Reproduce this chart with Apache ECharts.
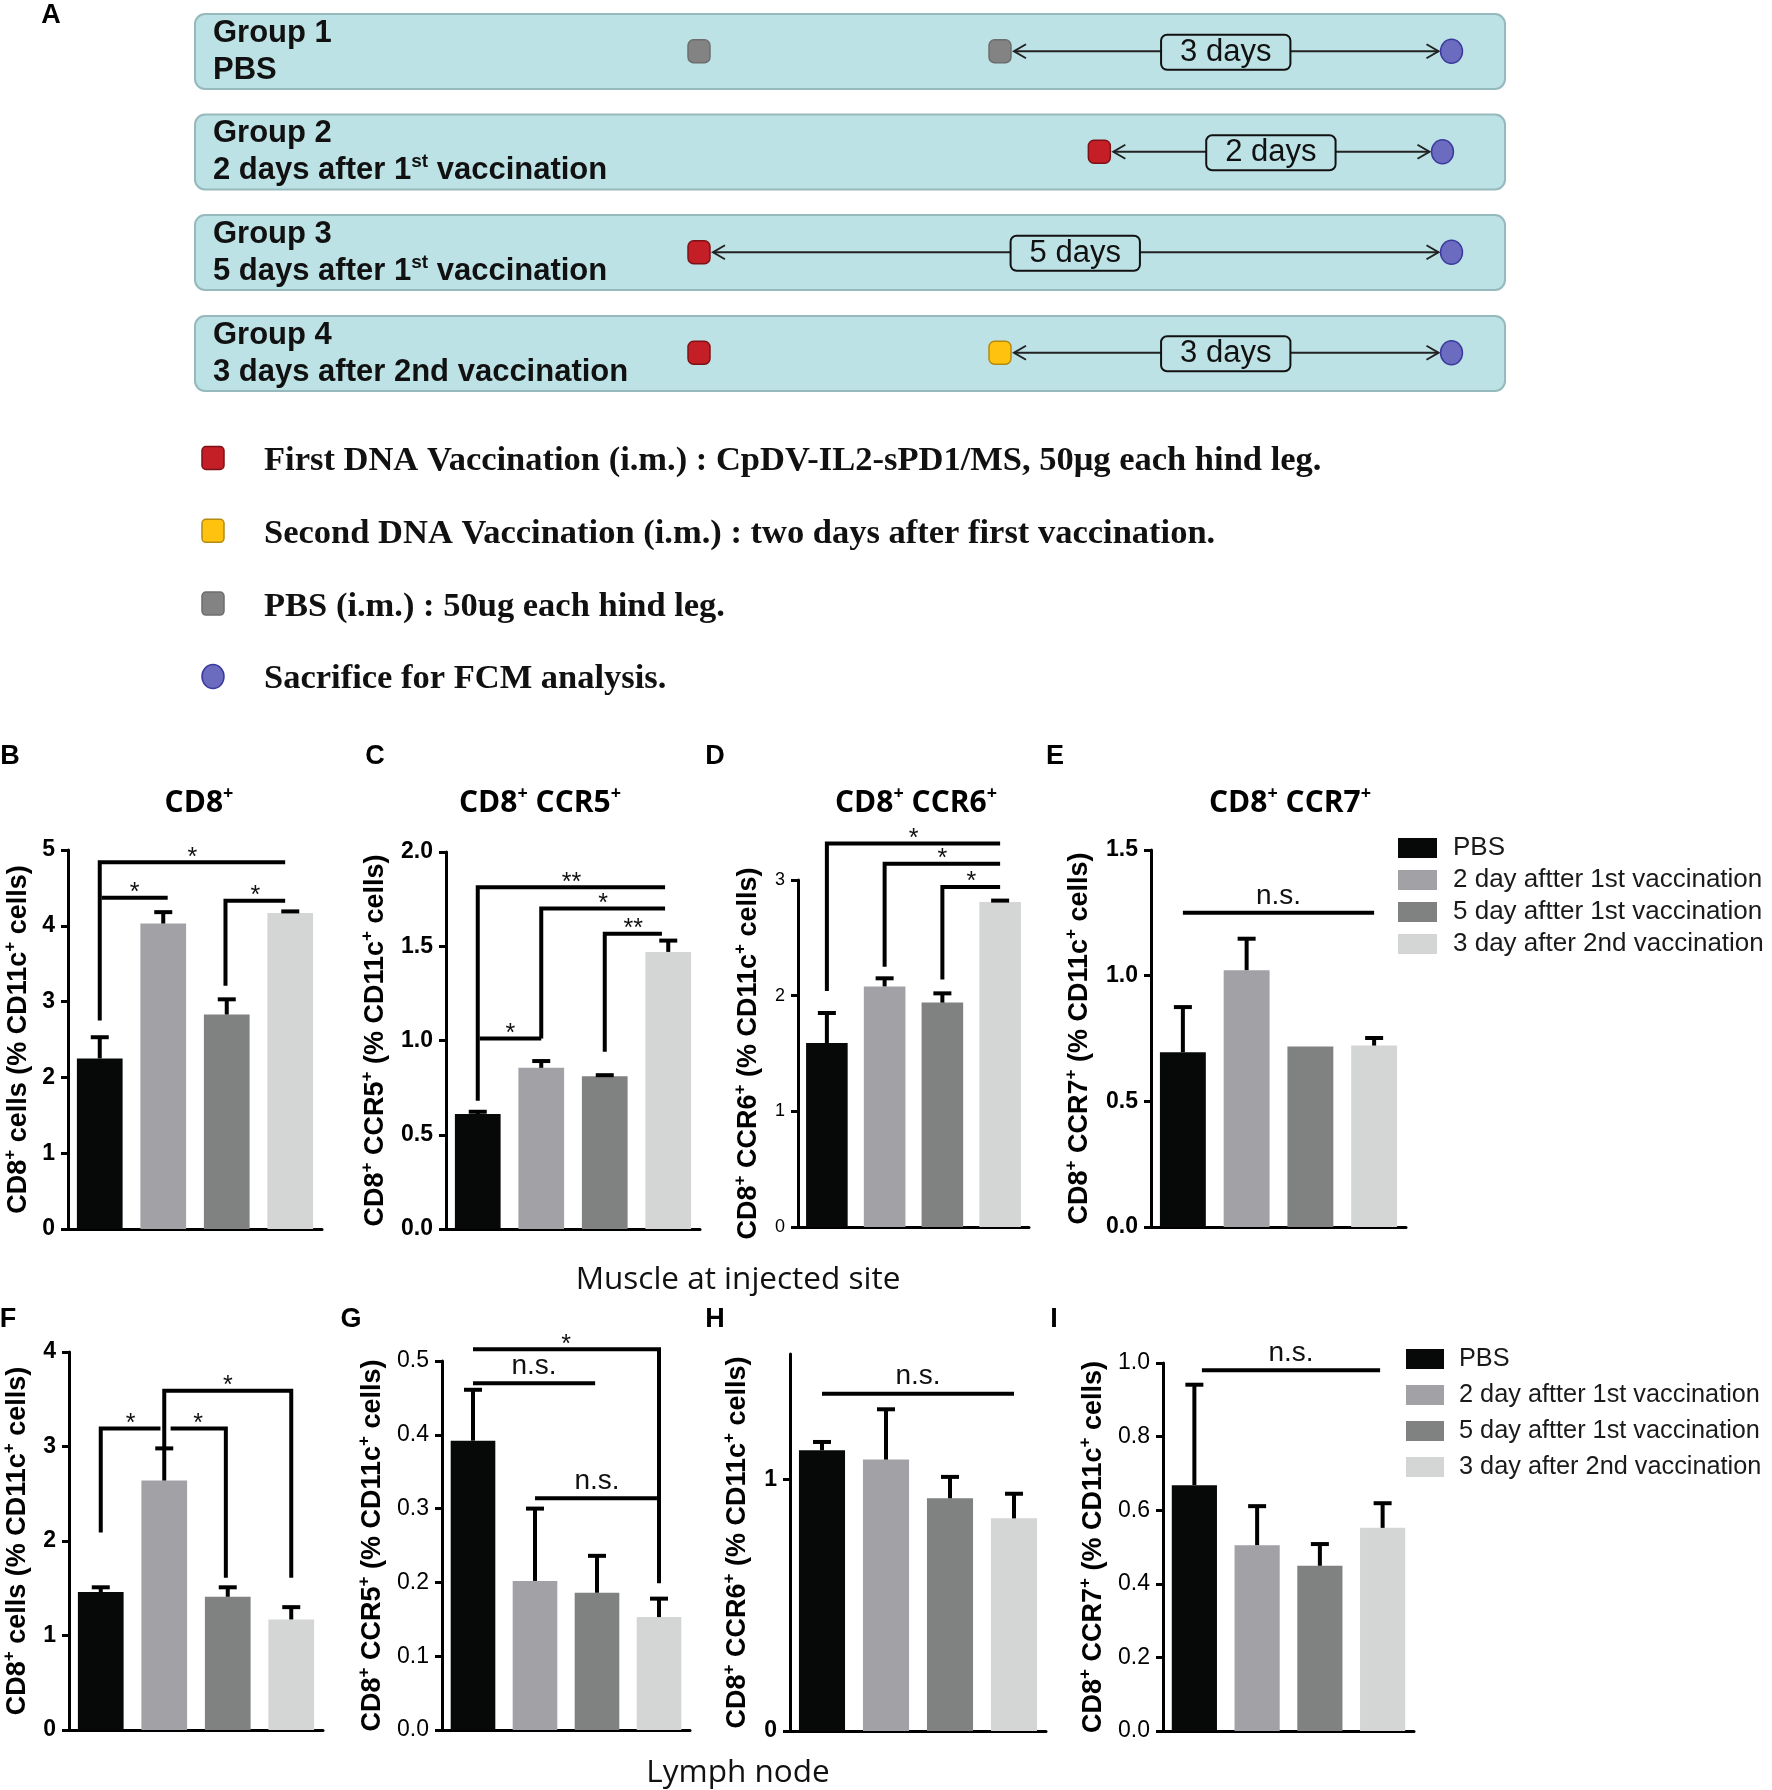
<!DOCTYPE html>
<html><head><meta charset="utf-8">
<script src="https://cdn.jsdelivr.net/npm/echarts@6/dist/echarts.min.js"></script>
<style>html,body{margin:0;padding:0;background:#fff}#c{width:1772px;height:1790px}</style>
</head><body><div id="c"></div>
<script>
// ---------------- data ----------------
const groups = ['PBS', '2 day aftter 1st vaccination', '5 day aftter 1st vaccination', '3 day after 2nd vaccination'];

const muscleCD8 = [2.25, 4.03, 2.83, 4.17];
const muscleCD8Err = [0.28, 0.15, 0.20, 0.02];
const muscleCCR5 = [0.61, 0.855, 0.81, 1.47];
const muscleCCR5Err = [0.012, 0.036, 0.006, 0.06];
const muscleCCR6 = [1.59, 2.08, 1.94, 2.81];
const muscleCCR6Err = [0.26, 0.07, 0.08, 0.012];
const muscleCCR7 = [0.695, 1.022, 0.718, 0.722];
const muscleCCR7Err = [0.18, 0.125, 0, 0.03];

const lymphCD8 = [1.46, 2.64, 1.41, 1.17];
const lymphCD8Err = [0.05, 0.34, 0.10, 0.13];
const lymphCCR5 = [0.392, 0.202, 0.186, 0.153];
const lymphCCR5Err = [0.069, 0.098, 0.05, 0.025];
const lymphCCR6 = [1.117, 1.08, 0.926, 0.846];
const lymphCCR6Err = [0.033, 0.2, 0.085, 0.098];
const lymphCCR7 = [0.668, 0.505, 0.449, 0.552];
const lymphCCR7Err = [0.273, 0.106, 0.059, 0.067];

// tick labels (value axes)
const muscleCD8Ticks = [0, 1, 2, 3, 4, 5];
const muscleCCR5Ticks = [0, 0.5, 1.0, 1.5, 2.0];
const muscleCCR6Ticks = [0, 1, 2, 3];
const muscleCCR7Ticks = [0, 0.5, 1.0, 1.5];
const lymphCD8Ticks = [0, 1, 2, 3, 4];
const lymphCCR5Ticks = [0, 0.1, 0.2, 0.3, 0.4, 0.5];
const lymphCCR6Ticks = [0, 1];
const lymphCCR6AxisMax = 1.5;
const lymphCCR7Ticks = [0, 0.2, 0.4, 0.6, 0.8, 1.0];

// significance brackets: [fromIndex, toIndex, level, label, leftEndLevel, rightEndLevel]
const muscleCD8Sig = [[0, 2.92, 4.84, '*', 2.75, null], [0.03, 1.07, 4.37, '*', null, null], [1.98, 2.92, 4.33, '*', 3.21, null]];
const muscleCCR5Sig = [[0, 2.95, 1.813, '**', 0.68, null], [1, 2.95, 1.70, '*', 1.01, null], [2, 2.9, 1.566, '**', 0.94, null], [0.03, 1, 1.01, '*', null, null]];
const muscleCCR6Sig = [[0, 3, 3.316, '*', 2.04, null], [1, 3, 3.14, '*', 2.25, null], [2, 3, 2.94, '*', 2.14, null]];
const muscleCCR7Sig = [[0, 3, 1.25, 'n.s.', null, null]];
const lymphCD8Sig = [[0, 0.94, 3.19, '*', 2.09, null], [1.1, 1.97, 3.19, '*', null, 1.61], [1, 3, 3.59, '*', 2.99, 1.61]];
const lymphCCR5Sig = [[0, 3, 0.516, '*', null, 0.199], [0, 1.97, 0.47, 'n.s.', null, null], [1, 3, 0.314, 'n.s.', null, null]];
const lymphCCR6Sig = [[0, 3, 1.342, 'n.s.', null, null]];
const lymphCCR7Sig = [[0.12, 2.96, 0.98, 'n.s.', null, null]];

// panel A timeline (days)
const timelineGroups = [['Group 1', 'PBS'], ['Group 2', '2 days after 1{s|st} vaccination'], ['Group 3', '5 days after 1{s|st} vaccination'], ['Group 4', '3 days after 2nd vaccination']];
const timelinePBS = [[0, 0], [2, 0]];
const timelineFirstVacc = [[2.66, 1], [0, 2], [0, 3]];
const timelineSecondVacc = [[2, 3]];
const timelineSacrifice = [[5, 0], [4.94, 1], [5, 2], [5, 3]];
// [start, end, row, label, labelPosition]
const timelineIntervals = [[2, 5, 0, '3 days', 3.5], [2.66, 4.94, 1, '2 days', 3.8], [0, 5, 2, '5 days', 2.5], [2, 5, 3, '3 days', 3.5]];
const vaccineLegend = ['First DNA Vaccination (i.m.) : CpDV-IL2-sPD1/MS, 50μg each hind leg.', 'Second DNA Vaccination (i.m.) : two days after first vaccination.', 'PBS (i.m.) : 50ug each hind leg.', 'Sacrifice for FCM analysis.'];

// ---------------- styles / layout ----------------
const barColors = ['#070909', '#a1a1a6', '#808181', '#d4d5d5'];
const SANS = 'Liberation Sans';
const nameRich = {
  m: { fontSize: 27, fontWeight: 'bold', fontFamily: SANS, color: '#000', lineHeight: 33 },
  s: { fontSize: 17, fontWeight: 'bold', fontFamily: SANS, color: '#000', lineHeight: 17, verticalAlign: 'top' }
};
const nm = (a, b) => '{m|CD8}{s|+}{m| ' + a + '}' + (b ? '{s|+}' : '') + '{m| (% CD11c}{s|+}{m| cells)}';

const panels = [
  { vals: muscleCD8, err: muscleCD8Err, sig: muscleCD8Sig, ticks: muscleCD8Ticks, max: 5, dec: 0, grid: { left: 68, top: 850, width: 254, height: 379 }, name: nm('cells', false), gap: 33, bold: true, ls: 23 },
  { vals: muscleCCR5, err: muscleCCR5Err, sig: muscleCCR5Sig, ticks: muscleCCR5Ticks, max: 2, dec: 1, grid: { left: 446, top: 852, width: 254, height: 377 }, name: nm('CCR5', true), gap: 54, bold: true, ls: 23 },
  { vals: muscleCCR6, err: muscleCCR6Err, sig: muscleCCR6Sig, ticks: muscleCCR6Ticks, max: 3, dec: 0, grid: { left: 798, top: 880, width: 231, height: 347 }, name: nm('CCR6', true), gap: 33, bold: false, ls: 18 },
  { vals: muscleCCR7, err: muscleCCR7Err, sig: muscleCCR7Sig, ticks: muscleCCR7Ticks, max: 1.5, dec: 1, grid: { left: 1151, top: 850, width: 255, height: 377 }, name: nm('CCR7', true), gap: 55, bold: true, ls: 23 },
  { vals: lymphCD8, err: lymphCD8Err, sig: lymphCD8Sig, ticks: lymphCD8Ticks, max: 4, dec: 0, grid: { left: 68, top: 1352, width: 255, height: 378 }, name: nm('cells', false), gap: 35, bold: true, ls: 23 },
  { vals: lymphCCR5, err: lymphCCR5Err, sig: lymphCCR5Sig, ticks: lymphCCR5Ticks, max: 0.5, dec: 1, grid: { left: 442, top: 1361, width: 248, height: 369 }, name: nm('CCR5', true), gap: 53, bold: false, ls: 23 },
  { vals: lymphCCR6, err: lymphCCR6Err, sig: lymphCCR6Sig, ticks: lymphCCR6Ticks, max: lymphCCR6AxisMax, dec: 0, grid: { left: 790, top: 1354, width: 256, height: 377 }, name: nm('CCR6', true), gap: 36, bold: true, ls: 23 },
  { vals: lymphCCR7, err: lymphCCR7Err, sig: lymphCCR7Sig, ticks: lymphCCR7Ticks, max: 1.0, dec: 1, grid: { left: 1163, top: 1363, width: 251, height: 368 }, name: nm('CCR7', true), gap: 53, bold: false, ls: 23 }
];

const grids = [], xAxes = [], yAxes = [], series = [];

panels.forEach((p, gi) => {
  grids.push(p.grid);
  xAxes.push({ type: 'category', gridIndex: gi, data: groups, axisLine: { lineStyle: { color: '#000', width: 3 } }, axisTick: { show: false }, axisLabel: { show: false } });
  yAxes.push({
    type: 'value', gridIndex: gi, min: 0, max: p.max, interval: p.ticks[1] - p.ticks[0],
    axisLine: { show: true, lineStyle: { color: '#000', width: 3 } },
    axisTick: { show: true, length: 7, customValues: p.ticks, lineStyle: { color: '#000', width: 3 } },
    axisLabel: { customValues: p.ticks, formatter: v => Number(v).toFixed(p.dec), fontSize: p.ls, fontWeight: p.bold ? 'bold' : 'normal', fontFamily: SANS, color: '#000', margin: 13 },
    splitLine: { show: false },
    name: p.name, nameLocation: 'middle', nameGap: p.gap, nameRotate: 90,
    nameTextStyle: { rich: nameRich }
  });
  groups.forEach((g, k) => {
    series.push({
      type: 'bar', name: g, xAxisIndex: gi, yAxisIndex: gi, barWidth: '72%', barGap: '-100%',
      itemStyle: { color: barColors[k] }, silent: true,
      data: p.vals.map((v, j) => (j === k ? v : '-'))
    });
  });
  series.push({
    type: 'custom', xAxisIndex: gi, yAxisIndex: gi, z: 4, silent: true,
    data: p.vals.map((v, j) => [j, v + p.err[j]]),
    renderItem: (params, api) => {
      const i = params.dataIndex, v = p.vals[i], e = p.err[i];
      if (!e) return null;
      const b = api.coord([i, v]), t = api.coord([i, v + e]);
      return { type: 'group', children: [
        { type: 'line', shape: { x1: b[0], y1: b[1], x2: t[0], y2: t[1] }, style: { stroke: '#000', lineWidth: 4 } },
        { type: 'line', shape: { x1: t[0] - 9, y1: t[1], x2: t[0] + 9, y2: t[1] }, style: { stroke: '#000', lineWidth: 4 } }
      ] };
    }
  });
  series.push({
    type: 'custom', xAxisIndex: gi, yAxisIndex: gi, z: 5, silent: true, clip: false,
    data: p.sig.map(s => [Math.round(s[0]), s[2]]),
    renderItem: (params, api) => {
      const s = p.sig[params.dataIndex];
      const bw = api.size([1, 0])[0];
      const x0 = api.coord([0, 0])[0];
      const X = v => x0 + v * bw;
      const Y = v => api.coord([0, v])[1];
      const pts = [];
      if (s[4] != null) pts.push([X(s[0]), Y(s[4])]);
      pts.push([X(s[0]), Y(s[2])], [X(s[1]), Y(s[2])]);
      if (s[5] != null) pts.push([X(s[1]), Y(s[5])]);
      const star = s[3].indexOf('*') >= 0;
      return { type: 'group', children: [
        { type: 'polyline', shape: { points: pts }, style: { stroke: '#000', lineWidth: 4, fill: null, lineJoin: 'miter' } },
        { type: 'text', x: (X(s[0]) + X(s[1])) / 2, y: Y(s[2]) + (star ? 8 : -3),
          style: { text: s[3], fontSize: star ? 25 : 28, fontFamily: SANS, fill: '#111', align: 'center', verticalAlign: 'bottom' } }
      ] };
    }
  });
});

// ---- panel A timeline grid ----
const TL = panels.length;
grids.push({ left: 699, top: 1, width: 752.5, height: 402 });
xAxes.push({ type: 'value', gridIndex: TL, min: 0, max: 5, show: false });
yAxes.push({ type: 'category', gridIndex: TL, data: timelineGroups.map(g => g[0]), inverse: true, show: false });
const BOXFILL = '#bde2e5';
series.push({
  type: 'custom', xAxisIndex: TL, yAxisIndex: TL, z: 3, silent: true, clip: false,
  data: timelineIntervals.map(t => [t[0], t[2]]),
  renderItem: (params, api) => {
    const t = timelineIntervals[params.dataIndex];
    const a = api.coord([t[0], t[2]]), b = api.coord([t[1], t[2]]), c = api.coord([t[4], t[2]]);
    const y = a[1], xl = a[0] + 14, xr = b[0] - 13;
    const st = { stroke: '#222', lineWidth: 2, fill: null };
    return { type: 'group', children: [
      { type: 'line', shape: { x1: xl, y1: y, x2: xr, y2: y }, style: st },
      { type: 'polyline', shape: { points: [[xl + 12, y - 7], [xl, y], [xl + 12, y + 7]] }, style: st },
      { type: 'polyline', shape: { points: [[xr - 12, y - 7], [xr, y], [xr - 12, y + 7]] }, style: st },
      { type: 'text', x: c[0], y: y + 1, style: { text: t[3], fontSize: 31, fontFamily: SANS, fill: '#111', align: 'center', verticalAlign: 'middle',
        backgroundColor: BOXFILL, borderColor: '#111', borderWidth: 2, borderRadius: 5, padding: [1, 18, 1, 18] } }
    ] };
  }
});
const mk = (data, symbol, color, border) => ({
  type: 'scatter', xAxisIndex: TL, yAxisIndex: TL, z: 6, silent: true, data: data,
  symbol: symbol, symbolSize: symbol === 'circle' ? [22, 24] : [22, 23],
  itemStyle: { color: color, borderColor: border, borderWidth: 1.5, opacity: 1 }
});
series.push(mk(timelinePBS, 'roundRect', '#838383', '#6d6d6d'));
series.push(mk(timelineFirstVacc, 'roundRect', '#c41e26', '#7d1216'));
series.push(mk(timelineSecondVacc, 'roundRect', '#ffc20e', '#b48a10'));
series.push(mk(timelineSacrifice, 'circle', '#6b6bc0', '#3a3a9c'));

// ---- graphics: panel A boxes, texts, legend, titles ----
const graphic = [];
const boxTops = [14, 114.5, 215, 316];
timelineGroups.forEach((g, i) => {
  const top = boxTops[i];
  graphic.push({ type: 'rect', z: 0, shape: { x: 195, y: top, width: 1310, height: 75, r: 10 }, style: { fill: BOXFILL, stroke: '#95b9bc', lineWidth: 2 } });
  const rich = { m: { fontSize: 31, fontWeight: 'bold', fontFamily: SANS, fill: '#111', lineHeight: 36 }, s: { fontSize: 19, fontWeight: 'bold', fontFamily: SANS, fill: '#111', lineHeight: 19, verticalAlign: 'top' } };
  graphic.push({ type: 'text', z: 1, x: 213, y: top + 19, style: { text: '{m|' + g[0] + '}', rich: rich, align: 'left', verticalAlign: 'middle' } });
  const line2 = g[1].split(/(\{s\|st\})/).map(s => s.indexOf('{s|') === 0 ? s : (s ? '{m|' + s + '}' : '')).join('');
  graphic.push({ type: 'text', z: 1, x: 213, y: top + 56, style: { text: line2, rich: rich, align: 'left', verticalAlign: 'middle' } });
});
const legendMarks = [
  { shape: 'rect', fill: '#c41e26', stroke: '#7d1216' },
  { shape: 'rect', fill: '#ffc20e', stroke: '#b48a10' },
  { shape: 'rect', fill: '#838383', stroke: '#6d6d6d' },
  { shape: 'circle', fill: '#6b6bc0', stroke: '#3a3a9c' }
];
vaccineLegend.forEach((txt, i) => {
  const cy = 458 + i * 72.8;
  const m = legendMarks[i];
  if (m.shape === 'rect') graphic.push({ type: 'rect', shape: { x: 202, y: cy - 11.5, width: 22, height: 23, r: 4 }, style: { fill: m.fill, stroke: m.stroke, lineWidth: 1.5 } });
  else graphic.push({ type: 'ellipse', shape: { cx: 213, cy: cy, rx: 11, ry: 12 }, style: { fill: m.fill, stroke: m.stroke, lineWidth: 1.5 } });
  graphic.push({ type: 'text', x: 264, y: cy + 3, style: { text: txt, fontSize: 34.5, fontWeight: 'bold', fontFamily: 'Liberation Serif', fill: '#111', align: 'left', verticalAlign: 'middle' } });
});
const letters = [['A', 51, 16], ['B', 10, 757], ['C', 375, 757], ['D', 715, 757], ['E', 1055, 757], ['F', 8, 1320], ['G', 351, 1320], ['H', 715, 1320], ['I', 1054, 1320]];
letters.forEach(l => graphic.push({ type: 'text', x: l[1], y: l[2], style: { text: l[0], fontSize: 27, fontWeight: 'bold', fontFamily: SANS, fill: '#000', align: 'center', verticalAlign: 'middle' } }));
const titleRich = { m: { fontSize: 30, fontWeight: 'bold', fontFamily: 'Open Sans', fill: '#000', lineHeight: 36 }, s: { fontSize: 18, fontWeight: 'bold', fontFamily: 'Open Sans', fill: '#000', lineHeight: 18, verticalAlign: 'top' } };
const titles = [['{m|CD8}{s|+}', 199], ['{m|CD8}{s|+}{m| CCR5}{s|+}', 540], ['{m|CD8}{s|+}{m| CCR6}{s|+}', 916], ['{m|CD8}{s|+}{m| CCR7}{s|+}', 1290]];
titles.forEach(t => graphic.push({ type: 'text', x: t[1], y: 803, style: { text: t[0], rich: titleRich, align: 'center', verticalAlign: 'middle' } }));
graphic.push({ type: 'text', x: 738, y: 1280, style: { text: 'Muscle at injected site', fontSize: 31.5, fontFamily: 'Open Sans', fill: '#111', align: 'center', verticalAlign: 'middle' } });
graphic.push({ type: 'text', x: 738, y: 1773, style: { text: 'Lymph node', fontSize: 31.5, fontFamily: 'Open Sans', fill: '#111', align: 'center', verticalAlign: 'middle' } });

const legendBase = {
  orient: 'vertical', data: groups, icon: 'rect', itemWidth: 39, itemHeight: 20, padding: 0, selectedMode: false,
  textStyle: { fontSize: 26, fontFamily: SANS, color: '#1a1a1a', lineHeight: 26, padding: [0, 0, 0, 11] }
};

const option = {
  animation: false,
  backgroundColor: '#ffffff',
  grid: grids, xAxis: xAxes, yAxis: yAxes, series: series, graphic: graphic,
  legend: [
    Object.assign({}, legendBase, { left: 1398, top: 835, itemGap: 6 }),
    Object.assign({}, legendBase, { left: 1406, top: 1346, itemGap: 10, itemWidth: 38, textStyle: Object.assign({}, legendBase.textStyle, { fontSize: 25.3, padding: [0, 0, 0, 10] }) })
  ]
};
const chart = echarts.init(document.getElementById('c'));
chart.setOption(option);
</script></body></html>
